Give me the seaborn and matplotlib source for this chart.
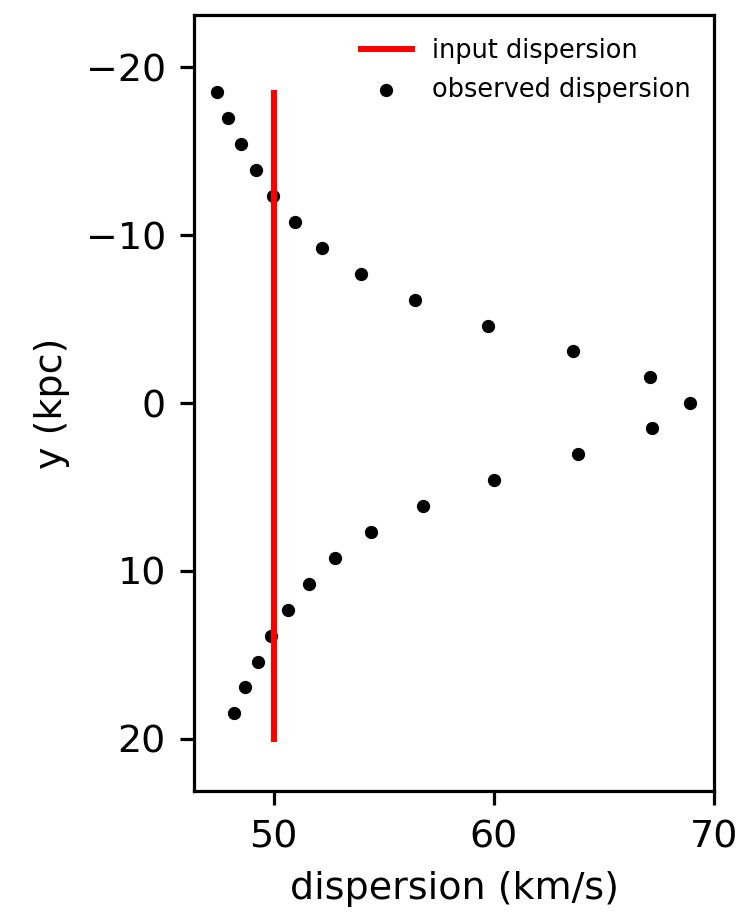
import matplotlib
matplotlib.use("Agg")
import matplotlib.pyplot as plt
import seaborn as sns
import pandas as pd

# observed dispersion points
y_obs = [-18.5, -16.95, -15.4, -13.85, -12.3, -10.8, -9.25, -7.7, -6.15, -4.6, -3.1, -1.55, 0.0,
         1.5, 3.05, 4.6, 6.15, 7.7, 9.25, 10.8, 12.3, 13.85, 15.4, 16.9, 18.45]
disp_obs = [47.42, 47.92, 48.51, 49.2, 49.97, 50.97, 52.2, 53.97, 56.4, 59.72, 63.58, 67.08, 68.9,
            67.2, 63.8, 60.0, 56.8, 54.4, 52.8, 51.6, 50.65, 49.9, 49.3, 48.7, 48.2]

# input dispersion line
y_in = [-18.47, 20.0]
disp_in = [50.0, 50.0]

xticks = [50, 60, 70]
yticks = [-20, -10, 0, 10, 20]

DPI = 288
fig = plt.figure(figsize=(754 / DPI, 913 / DPI), dpi=DPI)
ax = fig.add_axes([194 / 754, 1 - 791 / 913, (714 - 194) / 754, (791 - 15) / 913])

df_in = pd.DataFrame({"disp": disp_in, "y": y_in})
df_obs = pd.DataFrame({"disp": disp_obs, "y": y_obs})

sns.lineplot(data=df_in, x="disp", y="y", estimator=None, sort=False,
             color="red", linewidth=1.5, label="input dispersion", ax=ax)
sns.scatterplot(data=df_obs, x="disp", y="y", color="black", s=11, linewidth=0,
                label="observed dispersion", ax=ax)

ax.set_xlim(46.38, 70)
ax.set_ylim(23.1, -23.1)
ax.set_xticks(xticks)
ax.set_yticks(yticks)
ax.set_xlabel("dispersion (km/s)", fontsize=9.5)
ax.set_ylabel("y (kpc)", fontsize=9.5)
ax.tick_params(labelsize=9.5)
ax.legend(loc="upper right", frameon=False, fontsize=6.4)

fig.savefig("out.png", dpi=DPI)
